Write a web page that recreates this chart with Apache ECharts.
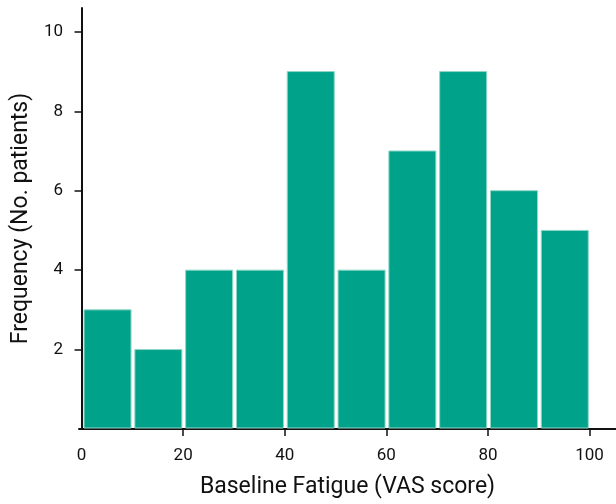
<!DOCTYPE html>
<html>
<head>
<meta charset="utf-8">
<script src="https://cdn.jsdelivr.net/npm/echarts@6/dist/echarts.min.js"></script>
<style>
    html,body{margin:0;padding:0;background:#fff;}
    #main{width:616px;height:504px;}
</style>
</head>
<body>
<div id="main"></div>
<script>
//分组起点 (VAS score)
let binStarts = [0, 10, 20, 30, 40, 50, 60, 70, 80, 90]
//组宽
let binWidth = 10
//频数
let counts = [3, 2, 4, 4, 9, 4, 7, 9, 6, 5]
//刻度
let xTicks = [20, 40, 60, 80, 100]
let xLabels = [0, 20, 40, 60, 80, 100]
let yTicks = [2, 4, 6, 8, 10]

let fontFam = '"Liberation Sans Narrow", "Roboto", sans-serif'

let barData = binStarts.map((s, i) => [s, s + binWidth, counts[i]])

let myChart = echarts.init(document.getElementById('main'))
let option = {
    animation: false,
    grid: {left: 79, right: 0, top: 8, bottom: 72},
    xAxis: {
        type: 'value',
        min: -0.5,
        max: 105.2,
        name: 'Baseline Fatigue (VAS score)',
        nameLocation: 'middle',
        nameGap: 47,
        nameTextStyle: {fontFamily: fontFam, fontSize: 23, color: '#111'},
        axisLine: {show: true, onZero: false, lineStyle: {color: '#111', width: 2}},
        axisTick: {show: true, length: 7, lineStyle: {color: '#111', width: 1.5}, customValues: xTicks},
        axisLabel: {fontFamily: fontFam, fontSize: 17, color: '#111', margin: 18, customValues: xLabels},
        splitLine: {show: false}
    },
    yAxis: {
        type: 'value',
        min: 0,
        max: 10.6,
        name: 'Frequency (No. patients)',
        nameLocation: 'middle',
        nameGap: 46,
        nameTextStyle: {fontFamily: fontFam, fontSize: 23, color: '#111'},
        axisLine: {show: true, lineStyle: {color: '#111', width: 2}},
        axisTick: {show: true, length: 7, lineStyle: {color: '#111', width: 1.5}, customValues: yTicks},
        axisLabel: {fontFamily: fontFam, fontSize: 17, color: '#111', margin: 16, customValues: yTicks},
        splitLine: {show: false}
    },
    series: [{
        type: 'custom',
        data: barData,
        renderItem: function (params, api) {
            let p0 = api.coord([api.value(0), api.value(2)])
            let p1 = api.coord([api.value(1), 0])
            return {
                type: 'rect',
                shape: {x: p0[0] + 2.5, y: p0[1], width: p1[0] - p0[0] - 3.8, height: p1[1] - p0[1] - 1},
                style: {fill: '#00a389', stroke: '#8fd6c8', lineWidth: 1}
            }
        }
    }]
}
myChart.setOption(option)
</script>
</body>
</html>
